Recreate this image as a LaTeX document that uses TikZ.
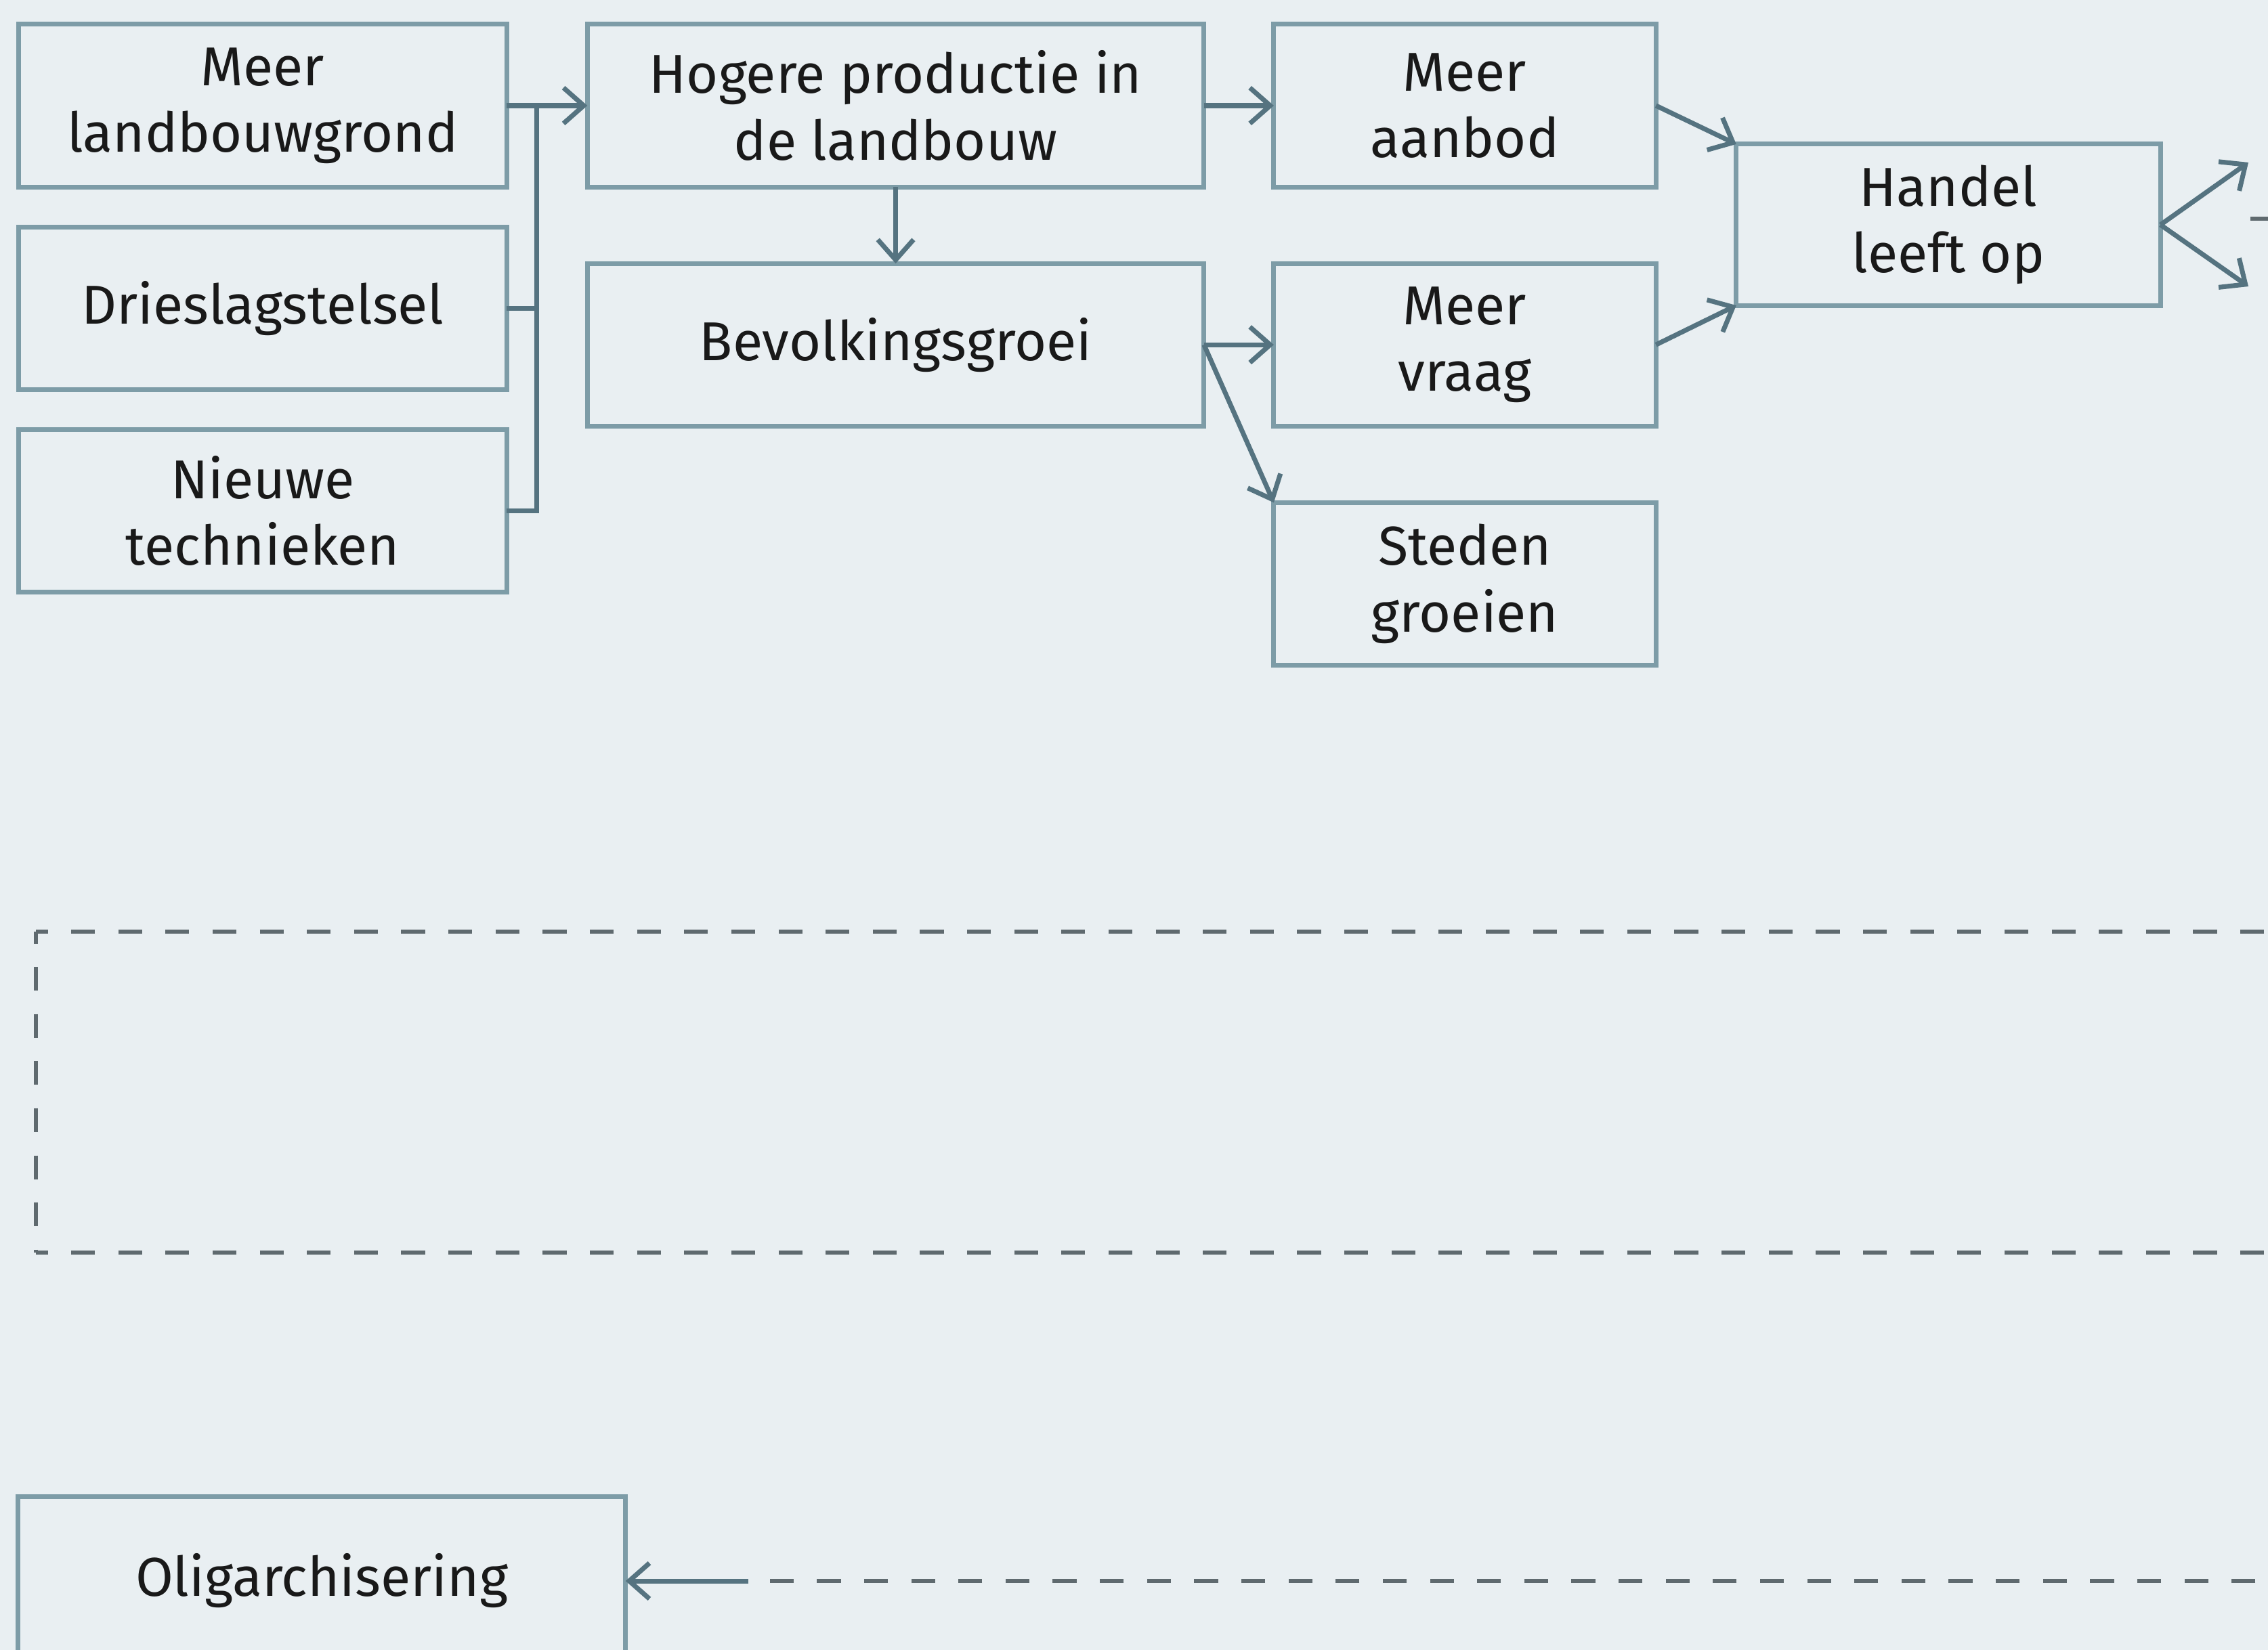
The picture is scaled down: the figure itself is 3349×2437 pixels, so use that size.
\documentclass[tikz,border=0pt]{standalone}
\usepackage{fontspec}
\setmainfont{Fira Sans}
\usetikzlibrary{arrows.meta,positioning}
\definecolor{achtergrond}{HTML}{E9EFF2}
\definecolor{kaderkleur}{HTML}{7D9CA7}
\definecolor{pijlkleur}{HTML}{557380}
\definecolor{streepkleur}{HTML}{5F6A6F}

\begin{document}
\begin{tikzpicture}[x=0.01cm, y=-0.01cm, >={Straight Barb[length=8.5pt,width=15pt]}]
  \tikzstyle{blok}=[draw=kaderkleur, line width=2pt, minimum height=2.4cm, inner sep=0pt, outer sep=0pt, align=center, text=black!90, font=\fontsize{23}{28}\selectfont]
  \tikzstyle{pijl}=[->, draw=pijlkleur, line width=2pt]
  \tikzstyle{streep}=[draw=streepkleur, line width=1.8pt, dash pattern=on 10pt off 9.8pt]

  \fill[achtergrond] (0,0) rectangle (3349,2437);
  \useasboundingbox (0,0) rectangle (3349,2437);

  \node[blok, minimum width=7.2cm]  (grond)     at (388,156)            {Meer\\landbouwgrond};
  \node[blok, minimum width=7.2cm]  (drie)      [below=0.59cm of grond] {Drieslagstelsel};
  \node[blok, minimum width=7.2cm]  (nieuw)     [below=0.59cm of drie]  {Nieuwe\\technieken};
  \node[blok, minimum width=9.1cm]  (hogere)    [right=1.19cm of grond] {Hogere productie in\\de landbouw};
  \node[blok, minimum width=9.1cm]  (bevolking) [below=1.13cm of hogere] {Bevolkingsgroei};
  \node[blok, minimum width=5.64cm] (aanbod)    [right=1.03cm of hogere] {Meer\\aanbod};
  \node[blok, minimum width=5.64cm] (vraag)     [below=1.13cm of aanbod] {Meer\\vraag};
  \node[blok, minimum width=5.64cm] (steden)    [below=1.13cm of vraag]  {Steden\\groeien};
  \node[blok, minimum width=6.26cm, minimum height=2.38cm] (handel) at (2877,332) {Handel\\leeft op};
  \node[blok, minimum width=8.97cm, minimum height=2.48cm] (oligarchie) at (475,2335) {Oligarchisering};

  \coordinate (omhoog)  at (3320,240);
  \coordinate (omlaag)  at (3320,423);
  \coordinate (verder)  at (3323,323);
  \coordinate (rechts)  at (3400,2335);
  \coordinate (eind)    at (1105,2335);

  % oorzaken samen naar de landbouw
  \draw[pijl] (grond.east) -- (hogere.west);
  \draw[pijl,-] (drie.east) -- ++(0.44cm,0);
  \draw[pijl,-] (nieuw.east) -- ++(0.44cm,0) |- (grond.east);

  \path (hogere) edge[pijl] (bevolking)
                 edge[pijl] (aanbod)
        (bevolking.east) edge[pijl] (vraag.west)
                         edge[pijl] (steden.north west)
        (aanbod.east) edge[pijl] (handel.north west)
        (vraag.east)  edge[pijl] (handel.south west)
        (handel.east) edge[pijl] (omhoog)
                      edge[pijl] (omlaag);
  \draw[streep] (verder) -- ++(0.4cm,0);

  % lege kader
  \draw[streep, dash phase=5pt] (53,1376) -- (3400,1376);
  \draw[streep, dash phase=5pt] (53,1376) -- (53,1850);
  \draw[streep, dash phase=5pt] (53,1850) -- (3400,1850);

  \draw[streep] (rechts) -- (eind);
  \draw[pijl] (eind) -- (oligarchie.east);
\end{tikzpicture}
\end{document}
